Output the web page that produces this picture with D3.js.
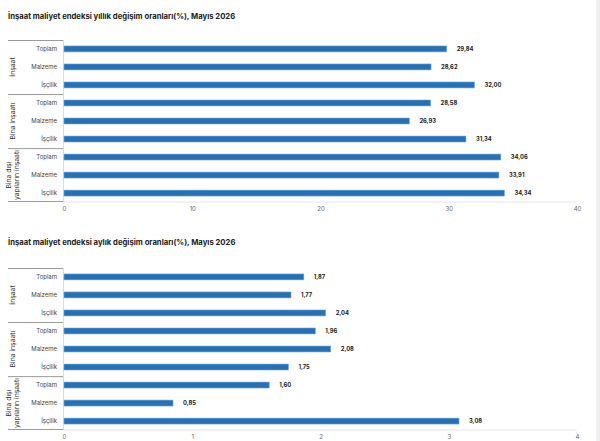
<!DOCTYPE html>
<html>
<head>
<meta charset="utf-8">
<script src="https://cdn.jsdelivr.net/npm/d3@7"></script>
<style>
  body { margin: 0; background: #fff; }
  svg { display: block; font-family: Inter, "Noto Sans", sans-serif; }
</style>
</head>
<body>
<div id="chart"></div>
<script>
// data
var categories = ["Toplam", "Malzeme", "İşçilik"];
var groups = [["İnşaat"], ["Bina inşaatı"], ["Bina dışı", "yapıların inşaatı"]];
var yearlyValues = [29.84, 28.62, 32.00, 28.58, 26.93, 31.34, 34.06, 33.91, 34.34];
var monthlyValues = [1.87, 1.77, 2.04, 1.96, 2.08, 1.75, 1.60, 0.85, 3.08];
var yearlyTicks = [0, 10, 20, 30, 40];
var monthlyTicks = [0, 1, 2, 3, 4];
var yearlyTitle = "İnşaat maliyet endeksi yıllık değişim oranları(%), Mayıs 2026";
var monthlyTitle = "İnşaat maliyet endeksi aylık değişim oranları(%), Mayıs 2026";

var W = 600, H = 441;
var svg = d3.select("#chart").append("svg").attr("width", W).attr("height", H);

// scrollbar-ish strip on the right edge
svg.append("rect").attr("x", 596).attr("y", 0).attr("width", 4).attr("height", H).attr("fill", "#efefef");

function drawChart(titleY, plotTop, values, ticks, title) {
    var plotBottom = plotTop + 162;
    var rows = [];
    groups.forEach(function (g, gi) {
        categories.forEach(function (c, ci) {
            rows.push({ key: gi + "-" + c, label: c, value: values[gi * 3 + ci], group: gi });
        });
    });

    var x = d3.scaleLinear().domain([ticks[0], ticks[ticks.length - 1]]).range([64, 577]);
    var y = d3.scaleBand().domain(rows.map(function (d) { return d.key; }))
        .range([plotTop, plotBottom]).paddingInner(0.67).paddingOuter(0.33);

    var g = svg.append("g");

    g.append("text").attr("x", 8).attr("y", titleY).attr("font-size", 7.7).attr("font-weight", 700)
        .attr("fill", "#222").text(title);

    // axis line + ticks
    g.append("line").attr("x1", 64).attr("x2", 577).attr("y1", plotBottom).attr("y2", plotBottom)
        .attr("stroke", "#e6e6e6");
    g.append("line").attr("x1", 63.5).attr("x2", 63.5).attr("y1", plotTop).attr("y2", plotBottom)
        .attr("stroke", "#dcdcdc");

    var axis = d3.axisBottom(x).tickValues(ticks).tickSize(0).tickPadding(0).tickFormat(d3.format("d"));
    var ag = g.append("g").attr("transform", "translate(0," + (plotBottom + 5) + ")").call(axis);
    ag.select(".domain").remove();
    ag.selectAll("text").attr("font-size", 6).attr("fill", "#666").attr("font-family", "Inter, sans-serif");

    // bars
    g.selectAll("rect.bar").data(rows).enter().append("rect")
        .attr("class", "bar")
        .attr("x", x(0))
        .attr("y", function (d) { return y(d.key); })
        .attr("width", function (d) { return x(d.value) - x(0); })
        .attr("height", y.bandwidth())
        .attr("fill", "#2a70b0")
        .attr("stroke", "#6aa8df").attr("stroke-width", 0.6);

    // value labels
    g.selectAll("text.val").data(rows).enter().append("text")
        .attr("class", "val")
        .attr("x", function (d) { return x(d.value) + 10; })
        .attr("y", function (d) { return y(d.key) + y.bandwidth() / 2; })
        .attr("dy", "0.35em").attr("font-size", 5.8).attr("font-weight", 700).attr("fill", "#222")
        .text(function (d) { return d3.format(".2f")(d.value).replace(".", ","); });

    // category labels
    g.selectAll("text.cat").data(rows).enter().append("text")
        .attr("class", "cat")
        .attr("x", 57)
        .attr("y", function (d) { return y(d.key) + y.bandwidth() / 2; })
        .attr("dy", "0.35em").attr("text-anchor", "end").attr("font-size", 6).attr("fill", "#444")
        .text(function (d) { return d.label; });

    // group separators and labels
    var step = y.step();
    groups.forEach(function (lines, gi) {
        var y0 = plotTop + gi * 3 * step;
        var y1 = y0 + 3 * step;
        g.append("line").attr("x1", 8).attr("x2", 63).attr("y1", y0 + 0.5).attr("y2", y0 + 0.5)
            .attr("stroke", "#9a9a9a");
        var cy = (y0 + y1) / 2;
        var n = lines.length;
        lines.forEach(function (t, li) {
            var cx = 13 + (li - (n - 1) / 2) * 8.5;
            g.append("text")
                .attr("transform", "translate(" + (cx + 2) + "," + cy + ") rotate(-90)")
                .attr("text-anchor", "middle").attr("font-size", 6.8).attr("fill", "#333")
                .text(t);
        });
    });
    g.append("line").attr("x1", 8).attr("x2", 63).attr("y1", plotBottom - 0.5).attr("y2", plotBottom - 0.5)
        .attr("stroke", "#9a9a9a");
}

drawChart(19, 40, yearlyValues, yearlyTicks, yearlyTitle);
drawChart(245, 268, monthlyValues, monthlyTicks, monthlyTitle);
</script>
</body>
</html>
